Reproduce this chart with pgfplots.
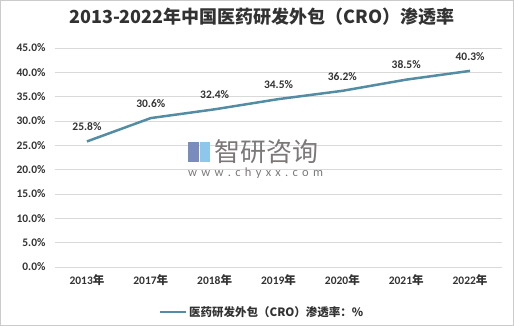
\documentclass[border=0pt]{standalone}
\usepackage{pgfplots}
\pgfplotsset{compat=1.18}
\usepackage{fontspec}
\setmainfont{Carlito}
\newfontfamily\cjk{Noto Sans CJK SC}
\definecolor{linec}{RGB}{84,141,163}
\definecolor{gridc}{RGB}{217,217,217}
\definecolor{txt}{RGB}{50,50,50}
\definecolor{wm}{RGB}{125,120,120}
\definecolor{logoa}{RGB}{120,140,190}
\definecolor{logob}{RGB}{140,200,235}
\newcommand\g{\hspace{4.3pt}}
\begin{document}
\begin{tikzpicture}[x=1pt,y=1pt]
\begin{axis}[scale only axis,
  width=447pt, height=219pt,
  xmin=-0.5, xmax=6.5, ymin=0, ymax=45,
  xtick={0,...,6},
  xticklabels={2013{\cjk 年},2017{\cjk 年},2018{\cjk 年},2019{\cjk 年},2020{\cjk 年},2021{\cjk 年},2022{\cjk 年}},
  ytick={0,5,...,45},
  yticklabel={\pgfmathprintnumber[fixed,fixed zerofill,precision=1]{\tick}\%},
  /pgf/number format/assume math mode=true,
  axis line style={draw=none},
  ymajorgrids, major grid style={gridc, line width=0.8pt},
  major tick length=0pt,
  tick label style={font=\bfseries\fontsize{11.5}{13}\selectfont, text=txt},
  xticklabel style={yshift=-4pt},
  yticklabel style={xshift=-6pt},
  legend style={at={(0.463,-0.205)}, anchor=center, draw=none, fill=none,
    font=\cjk\bfseries\fontsize{11.5}{13}\selectfont, text=txt, inner sep=0pt},
  legend image code/.code={\draw[#1] (0pt,0pt) -- (26pt,0pt);},
  clip=false,
]
\addplot[linec, line width=2.5pt, no marks,
  nodes near coords={\pgfmathprintnumber[fixed,fixed zerofill,precision=1]{\pgfplotspointmeta}\%},
  every node near coord/.append style={font=\bfseries\fontsize{11.5}{13}\selectfont, text=txt, yshift=6pt}]
  coordinates {(0,25.8) (1,30.6) (2,32.4) (3,34.5) (4,36.2) (5,38.5) (6,40.3)};
\addlegendentry{医药研发外包（CRO）渗透率：\%}
\end{axis}
\begin{scope}[shift={(-55pt,-59pt)}]
\useasboundingbox (0,0) rectangle (514,326);
\draw[gridc!85!gray, line width=1pt] (0.5,0.5) rectangle (513.5,325.5);
\node[font=\cjk\bfseries\fontsize{18}{21}\selectfont, text=txt] at (262,309) {2013-2022年中国医药研发外包（CRO）渗透率};
\node[font=\cjk\fontsize{26}{28}\selectfont, text=wm, anchor=west, inner sep=0pt] at (214,174) {智研咨询};
\fill[logoa] (188,164) rectangle (199,184);
\fill[logob] (200,164) rectangle (210,184);
\node[font=\fontsize{12.5}{14}\selectfont, text=wm, anchor=west, inner sep=0pt] at (188,153) {w\g w\g w\g .\g c\g h\g y\g x\g x\g .\g c\g o\g m};
\end{scope}
\end{tikzpicture}
\end{document}
